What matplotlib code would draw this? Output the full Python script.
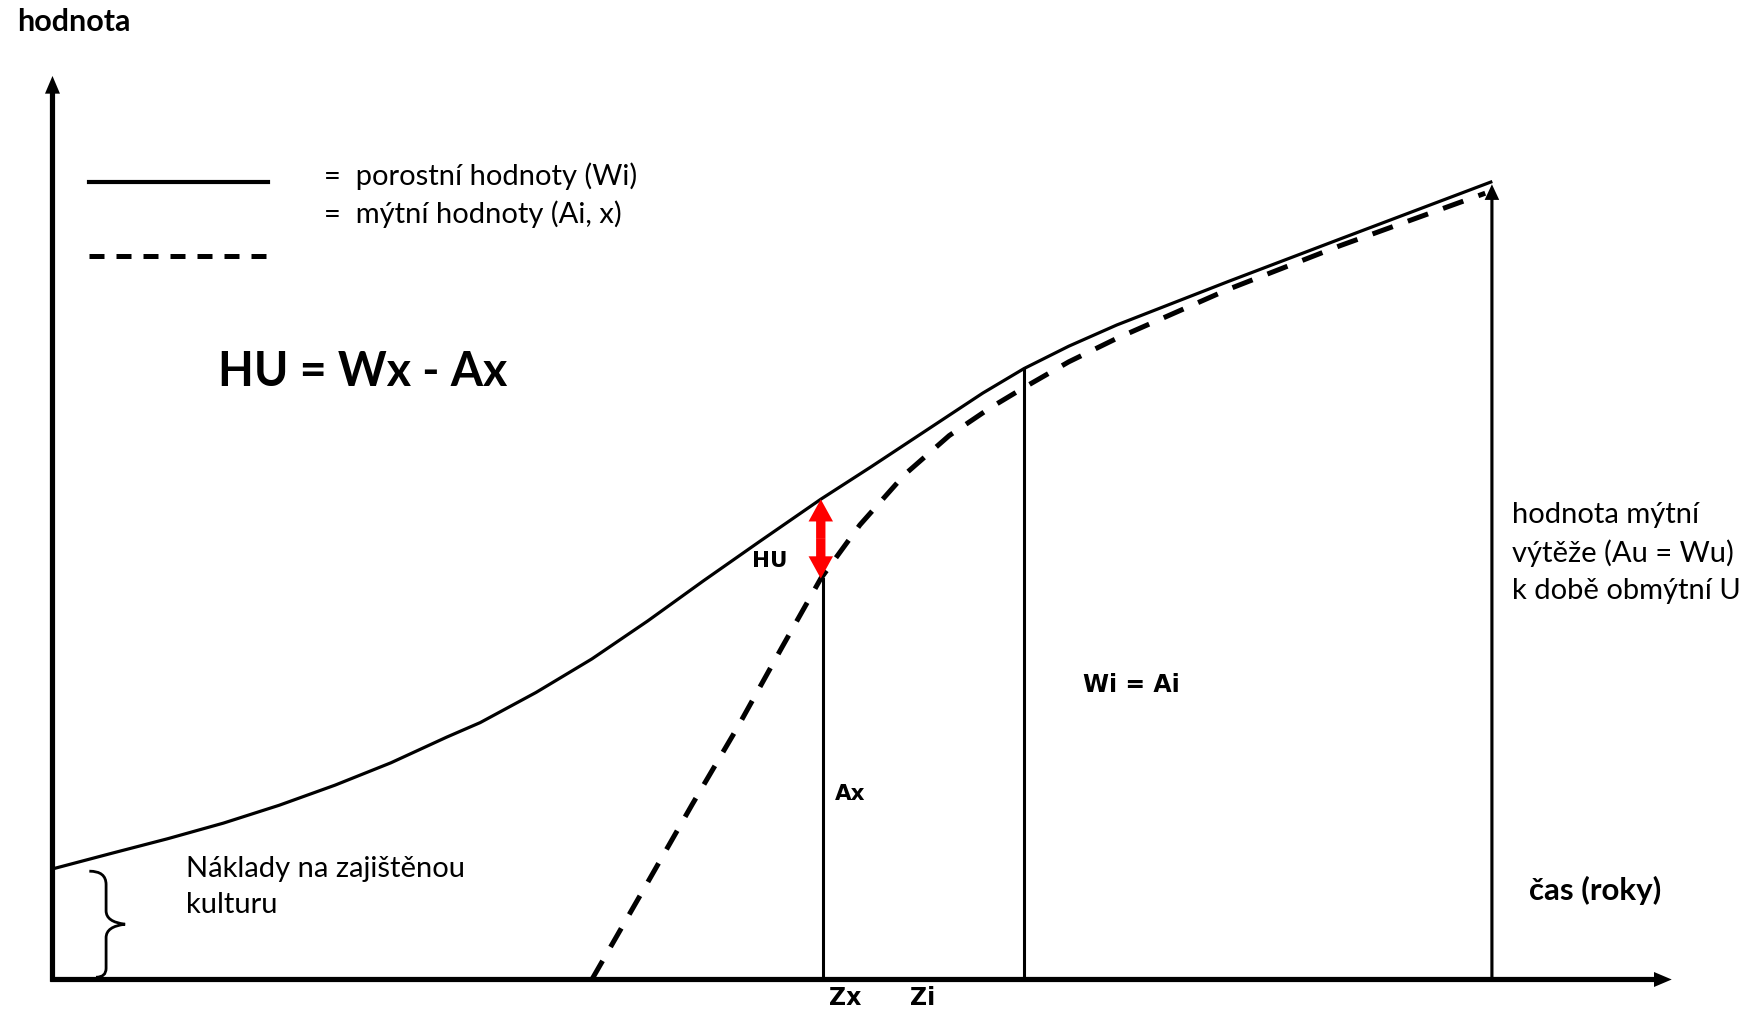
import matplotlib.pyplot as plt
from matplotlib.path import Path
from matplotlib.patches import PathPatch

# porostni hodnoty (Wi) - solid curve
wi_t = [0, 53, 103, 153, 203, 253, 303, 353, 383, 433, 483, 533, 583, 633,
        688, 733, 783, 833, 870, 910, 953, 1053, 1153, 1288]
wi_v = [99, 113, 126, 140, 156, 174, 194, 217, 230, 257, 287, 321, 357, 392,
        430, 459, 492, 525, 547, 567, 586, 625, 663, 714]

# mytni hodnoty (Ai) - dashed curve
ai_t = [483, 533, 573, 613, 653, 688, 723, 763, 803, 840, 870, 910, 953,
        1053, 1153, 1283]
ai_v = [0, 87, 157, 225, 297, 359, 407, 452, 487, 512, 530, 553, 574,
        618, 657, 704]

# key ages
t_zx = 690
t_zi = 870
t_u = 1289
wx, ax_val = 430, 359
wi_zi = 547
wu = 714

T_MAX = 1450
V_MAX = 809

plt.rcParams["font.family"] = ["Lato", "DejaVu Sans"]

fig = plt.figure(figsize=(17.51, 10.13), dpi=100)
ax = fig.add_axes([0, 0, 1, 1])
ax.set_xlim(-47, 1521)
ax.set_ylim(-30, 877)
ax.axis("off")


def arrow(ax, start, end, tail, head_w, head_l, color="k", scale=15):
    ax.annotate("", xy=end, xytext=start,
                arrowprops=dict(
                    arrowstyle="simple,head_length=%s,head_width=%s,tail_width=%s"
                    % (head_l, head_w, tail),
                    fc=color, ec="none", lw=0, shrinkA=0, shrinkB=0,
                    mutation_scale=scale))


# axes
arrow(ax, (0, -2), (0, V_MAX), 0.25, 0.72, 0.85)
arrow(ax, (-2, 0), (T_MAX, 0), 0.25, 0.72, 0.85)

# curves
ax.plot(wi_t, wi_v, color="k", lw=2.3, solid_joinstyle="round")
ax.plot(ai_t, ai_v, color="k", lw=3.6, linestyle=(0, (4.3, 3.2)))

# verticals
ax.plot([t_zx, t_zx], [0, ax_val], color="k", lw=2.2)
ax.plot([t_zi, t_zi], [0, wi_zi], color="k", lw=2.2)
arrow(ax, (t_u, 0), (t_u, wu - 2), 0.15, 0.7, 0.75)

# red HU arrow
mid = (wx + ax_val) / 2
arrow(ax, (t_zx - 2, mid), (t_zx - 2, wx), 0.42, 1.1, 1.0, color="#ff0000",
      scale=16)
arrow(ax, (t_zx - 2, mid), (t_zx - 2, ax_val), 0.42, 1.1, 1.0, color="#ff0000",
      scale=16)

# legend
ax.plot([33, 193], [714, 714], color="k", lw=3.0)
ax.plot([33, 193], [648, 648], color="k", lw=3.6, linestyle=(0, (3.0, 2.4)))
ax.text(243, 719, "=  porostní hodnoty (Wi)", fontsize=21, va="center")
ax.text(243, 685, "=  mýtní hodnoty (Ai, x)", fontsize=21, va="center")

# curly brace for the establishment cost
b0, b1 = 0, wi_v[0]
bm = (b0 + b1) / 2
xl, xm, xt = 33, 48, 65
verts = [(xl, b1 - 2), (xm, b1 - 2), (xm, b1 - 14), (xm, b1 - 22),
         (xm, bm + 12), (xm, bm + 2), (xt, bm),
         (xm, bm - 2), (xm, bm - 12),
         (xm, b0 + 22), (xm, b0 + 10), (xm, b0 + 2), (xl + 6, b0 + 2)]
codes = [Path.MOVETO, Path.CURVE3, Path.CURVE3, Path.LINETO,
         Path.LINETO, Path.CURVE3, Path.CURVE3,
         Path.CURVE3, Path.CURVE3,
         Path.LINETO, Path.LINETO, Path.CURVE3, Path.CURVE3]
ax.add_patch(PathPatch(Path(verts, codes), fill=False, lw=2.0, color="k"))

# texts
ax.text(-32, 857, "hodnota", fontsize=22, fontweight="bold", va="center")
ax.text(148, 544, "HU = Wx - Ax", fontsize=33.5, fontweight="bold", va="center")
ax.text(642, 375, "HU", fontsize=15.5, fontweight="bold", va="center",
        ha="center", family="DejaVu Sans")
ax.text(714, 166, "Ax", fontsize=15.5, fontweight="bold", va="center",
        ha="center", family="DejaVu Sans")
ax.text(966, 264, "Wi = Ai", fontsize=17, fontweight="bold", va="center",
        ha="center", family="DejaVu Sans")
ax.text(710, -17, "Zx", fontsize=17, fontweight="bold", va="center",
        ha="center", family="DejaVu Sans")
ax.text(779, -17, "Zi", fontsize=17, fontweight="bold", va="center",
        ha="center", family="DejaVu Sans")
ax.text(1381, 80, "čas (roky)", fontsize=22.5, fontweight="bold", va="center",
        ha="center")
ax.text(1307, 382, "hodnota mýtní\nvýtěže (Au = Wu)\nk době obmýtní U",
        fontsize=21, va="center", linespacing=1.5)
ax.text(120, 83, "Náklady na zajištěnou\nkulturu", fontsize=21, va="center",
        linespacing=1.5)

fig.savefig("out.png", dpi=100, facecolor="white")
